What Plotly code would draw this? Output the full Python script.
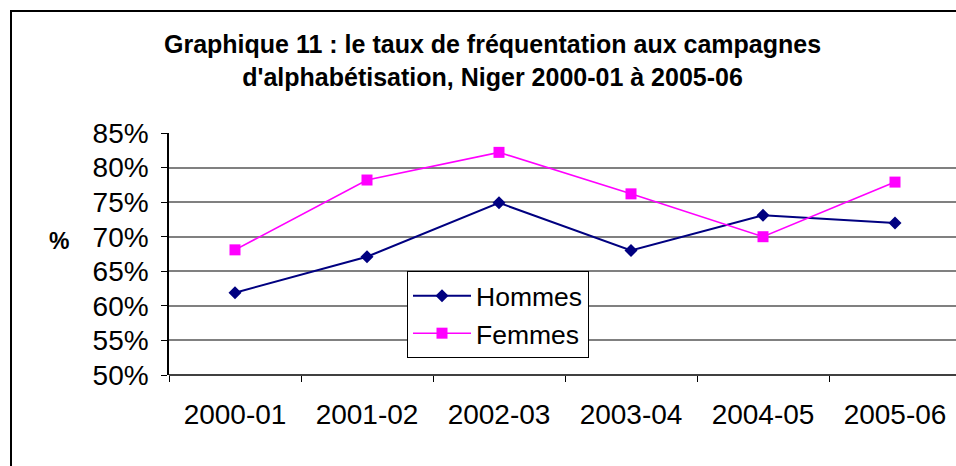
import plotly.graph_objects as go

categories = ["2000-01", "2001-02", "2002-03", "2003-04", "2004-05", "2005-06"]
hommes = [61.9, 67.1, 74.9, 68.0, 73.1, 72.0]
femmes = [68.1, 78.2, 82.2, 76.2, 70.0, 77.9]
y_ticks = [50, 55, 60, 65, 70, 75, 80, 85]
y_tick_labels = [f"{v}%" for v in y_ticks]
title_lines = ["Graphique 11 : le taux de fréquentation aux campagnes",
               "d'alphabétisation, Niger 2000-01 à 2005-06"]

W, H = 956, 466
L, R, T, B = 169, 0, 133, 91
pw = W - L - R
ph = H - T - B
cat_px = 132.0

FONT = "Liberation Sans, Arial, sans-serif"

fig = go.Figure()
fig.add_trace(go.Scatter(
    x=categories, y=hommes, name="Hommes", mode="lines+markers",
    line=dict(color="#000080", width=2),
    marker=dict(symbol="diamond", size=10, color="#000080"),
    legendgroup="h",
))
fig.add_trace(go.Scatter(
    x=categories, y=femmes, name="Femmes", mode="lines+markers",
    line=dict(color="#FF00FF", width=1.6),
    marker=dict(symbol="square", size=11, color="#FF00FF"),
    legendgroup="f",
))

def px_x(p):
    return (p - L) / pw

def px_y(p):
    return (H - B - p) / ph

annotations = [
    dict(text="<b>" + "<br>".join(title_lines) + "</b>", xref="paper", yref="paper",
         x=px_x(492), y=px_y(60), xanchor="center", yanchor="middle", align="center",
         showarrow=False, font=dict(family=FONT, size=25, color="black")),
    dict(text="<b>%</b>", xref="paper", yref="paper",
         x=px_x(59), y=px_y(241), xanchor="center", yanchor="middle",
         showarrow=False, font=dict(family=FONT, size=23, color="black")),
]

fig.update_layout(
    width=W, height=H,
    margin=dict(l=L, r=R, t=T, b=B, pad=0),
    paper_bgcolor="white", plot_bgcolor="white",
    font=dict(family=FONT, color="black", size=28),
    showlegend=True,
    legend=dict(
        x=px_x(407), y=px_y(271), xanchor="left", yanchor="top",
        bgcolor="white", bordercolor="black", borderwidth=1,
        font=dict(family=FONT, size=26.5, color="black"),
        tracegroupgap=0,
        itemwidth=58,
    ),
    xaxis=dict(
        type="category",
        range=[-0.5, -0.5 + pw / cat_px],
        showgrid=False, zeroline=False,
        showline=False,
        ticks="outside", tickson="boundaries", ticklen=6, tickcolor="black", tickwidth=1,
        ticklabelstandoff=20,
        tickfont=dict(family=FONT, size=28, color="black"),
    ),
    yaxis=dict(
        range=[50, 85],
        tickvals=y_ticks, ticktext=y_tick_labels,
        showgrid=True, gridcolor="#808080", gridwidth=1.5,
        zeroline=False,
        showline=True, linecolor="black", linewidth=1.5,
        ticks="outside", ticklen=6, tickcolor="black", tickwidth=1,
        ticklabelstandoff=7,
        tickfont=dict(family=FONT, size=28, color="black"),
    ),
    annotations=annotations,
    shapes=[
        dict(type="line", xref="paper", yref="paper", x0=0, x1=1, y0=0, y1=0,
             line=dict(color="black", width=1.5), layer="above"),
        dict(type="rect", xref="paper", yref="paper",
             x0=px_x(11), x1=px_x(W + 20), y0=px_y(H + 20), y1=px_y(11),
             line=dict(color="black", width=2), fillcolor="rgba(0,0,0,0)", layer="above"),
    ],
)

fig.write_html(
    "out.html",
    config={"displayModeBar": False},
    post_script="document.body.style.margin='0';document.body.style.overflow='hidden';",
)
